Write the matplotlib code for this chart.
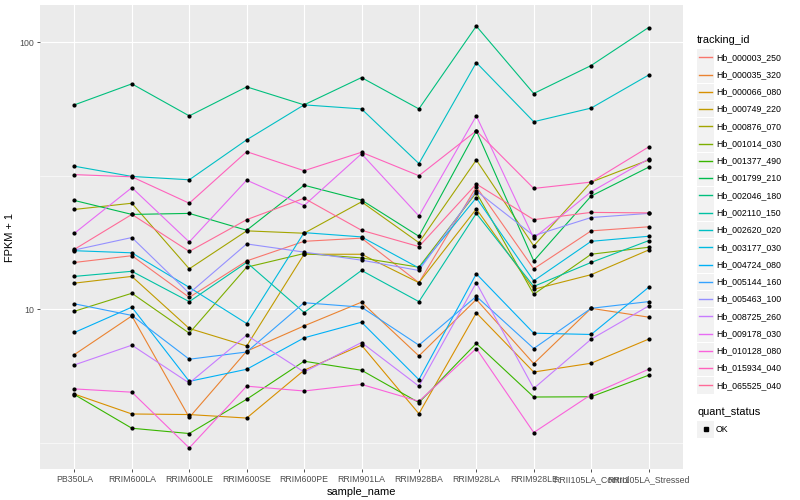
import numpy as np
import matplotlib
matplotlib.use('Agg')
from matplotlib import pyplot as plt
from matplotlib.patches import Rectangle
from matplotlib.lines import Line2D

samples = ['PB350LA', 'RRIM600LA', 'RRIM600LE', 'RRIM600SE', 'RRIM600PE', 'RRIM901LA',
           'RRIM928BA', 'RRIM928LA', 'RRIM928LE', 'RRII105LA_Control', 'RRII105LA_Stressed']

tracking_ids = ['Hb_000003_250', 'Hb_000035_320', 'Hb_000066_080', 'Hb_000749_220',
                'Hb_000876_070', 'Hb_001014_030', 'Hb_001377_490', 'Hb_001799_210',
                'Hb_002046_180', 'Hb_002110_150', 'Hb_002620_020', 'Hb_003177_030',
                'Hb_004724_080', 'Hb_005144_160', 'Hb_005463_100', 'Hb_008725_260',
                'Hb_009178_030', 'Hb_010128_080', 'Hb_015934_040', 'Hb_065525_040']

# FPKM + 1 per sample
hb_000003_250 = [15.0, 15.9, 11.1, 15.2, 18.0, 18.5, 12.6, 28.8, 14.2, 19.7, 20.4]
hb_000035_320 = [6.78, 9.46, 3.94, 6.98, 8.68, 10.65, 6.70, 10.9, 6.27, 10.1, 9.36]
hb_000066_080 = [4.82, 4.06, 4.04, 3.92, 5.92, 7.35, 4.07, 9.71, 5.83, 6.29, 7.74]
hb_000749_220 = [12.55, 13.3, 8.49, 7.30, 16.1, 16.1, 12.6, 23.8, 11.9, 13.5, 16.7]
hb_000876_070 = [23.7, 25.0, 14.2, 19.7, 19.3, 25.3, 17.8, 36.3, 17.3, 30.0, 36.3]
hb_001014_030 = [9.85, 11.5, 8.15, 14.4, 16.2, 15.6, 14.4, 27.4, 11.4, 16.1, 17.1]
hb_001377_490 = [4.80, 3.59, 3.43, 4.61, 6.40, 5.92, 4.48, 7.46, 4.70, 4.71, 5.67]
hb_001799_210 = [25.6, 22.7, 22.9, 19.8, 29.2, 25.7, 18.8, 46.7, 15.2, 26.6, 34.1]
hb_002046_180 = [58.4, 70.0, 53.1, 68.2, 58.4, 73.9, 56.4, 115.2, 64.4, 82.0, 113.8]
hb_002110_150 = [13.3, 13.9, 10.7, 15.0, 9.74, 14.0, 10.7, 22.9, 12.2, 15.0, 18.1]
hb_002620_020 = [34.4, 31.5, 30.6, 43.2, 58.4, 56.4, 35.2, 84.1, 50.5, 56.8, 75.5]
hb_003177_030 = [16.6, 16.3, 12.1, 8.86, 19.4, 18.7, 14.3, 26.2, 12.8, 18.0, 18.8]
hb_004724_080 = [8.20, 10.2, 5.38, 5.97, 7.83, 8.96, 5.46, 13.6, 8.15, 8.06, 12.1]
hb_005144_160 = [10.5, 9.50, 6.51, 6.93, 10.6, 10.2, 7.35, 11.2, 7.14, 10.1, 10.7]
hb_005463_100 = [16.7, 18.6, 11.5, 17.6, 16.4, 15.3, 14.0, 27.8, 18.9, 22.1, 22.9]
hb_008725_260 = [6.20, 7.35, 5.30, 8.01, 5.83, 7.52, 5.16, 12.6, 5.06, 7.74, 10.3]
hb_009178_030 = [19.3, 28.6, 17.9, 30.5, 24.5, 38.3, 22.4, 53.1, 18.5, 27.6, 36.6]
hb_010128_080 = [5.04, 4.90, 3.03, 5.16, 4.95, 5.24, 4.53, 7.14, 3.46, 4.80, 5.97]
hb_015934_040 = [32.0, 31.4, 25.0, 39.0, 33.1, 38.8, 31.7, 46.7, 28.4, 30.0, 40.6]
hb_065525_040 = [16.8, 22.7, 16.5, 21.7, 26.1, 19.8, 17.2, 29.5, 21.7, 23.1, 23.0]

series = [hb_000003_250, hb_000035_320, hb_000066_080, hb_000749_220, hb_000876_070,
          hb_001014_030, hb_001377_490, hb_001799_210, hb_002046_180, hb_002110_150,
          hb_002620_020, hb_003177_030, hb_004724_080, hb_005144_160, hb_005463_100,
          hb_008725_260, hb_009178_030, hb_010128_080, hb_015934_040, hb_065525_040]


def hcl(h, c=100.0, l=65.0):
    # polar LUV -> sRGB hex, like R's hcl()
    xn, yn, zn = 95.047, 100.0, 108.883
    un = 4 * xn / (xn + 15 * yn + 3 * zn)
    vn = 9 * yn / (xn + 15 * yn + 3 * zn)
    u = c * np.cos(np.radians(h)) / (13 * l) + un
    v = c * np.sin(np.radians(h)) / (13 * l) + vn
    y = yn * ((l + 16) / 116) ** 3
    x = 9 * y * u / (4 * v)
    z = -x / 3 - 5 * y + 3 * y / v
    xyz = np.array([x, y, z]) / 100
    m = np.array([[3.240479, -1.537150, -0.498535],
                  [-0.969256, 1.875992, 0.041556],
                  [0.055648, -0.204043, 1.057311]])
    rgb = m @ xyz
    rgb = np.where(rgb > 0.00304, 1.055 * np.power(np.clip(rgb, 1e-9, None), 1 / 2.4) - 0.055, 12.92 * rgb)
    rgb = np.clip(rgb, 0, 1)
    return '#%02X%02X%02X' % tuple(int(round(ch * 255)) for ch in rgb)


n = len(tracking_ids)
colors = [hcl(15 + 360 * i / n) for i in range(n)]

plt.rcParams['font.family'] = ['Liberation Sans', 'DejaVu Sans']
fig = plt.figure(figsize=(8, 5), dpi=100)
ax = fig.add_axes([40 / 800, 1 - 469 / 500, 643 / 800, 464 / 500])
ax.set_facecolor('#EBEBEB')

x = np.arange(len(samples))
for vals, col in zip(series, colors):
    ax.plot(x, vals, color=col, linewidth=0.8, zorder=2)
for vals in series:
    ax.plot(x, vals, linestyle='none', marker='o', markersize=2.0, color='black', zorder=3)

ax.set_yscale('log')
allv = np.log10(np.concatenate([np.asarray(s) for s in series]))
span = allv.max() - allv.min()
ax.set_ylim(10 ** (allv.min() - 0.05 * span), 10 ** (allv.max() + 0.05 * span))
ax.set_xlim(-0.6, len(samples) - 0.4)

ax.set_yticks([10, 100])
ax.set_yticklabels(['10', '100'])
ax.set_yticks([10 ** 0.5, 10 ** 1.5], minor=True)
ax.yaxis.set_minor_formatter(plt.NullFormatter())
ax.set_xticks(x)
ax.set_xticklabels(samples)

ax.grid(True, which='major', color='white', linewidth=0.8)
ax.grid(True, which='minor', axis='y', color='white', linewidth=0.4)
ax.set_axisbelow(True)
for s in ax.spines.values():
    s.set_visible(False)
ax.tick_params(which='major', length=2.5, width=0.6, color='#333333', labelsize=6.3,
               labelcolor='#4D4D4D', pad=2)
ax.tick_params(which='minor', length=0)
ax.set_xlabel('sample_name', fontsize=7.9, labelpad=2)
ax.set_ylabel('FPKM + 1', fontsize=7.9, labelpad=3)


def fx(px):
    return px / 800


def fy(py):
    return 1 - py / 500


# legend drawn by hand, ggplot style
fig.text(fx(697), fy(40), 'tracking_id', fontsize=7.9, va='center', ha='left')
for i, (name, col) in enumerate(zip(tracking_ids, colors)):
    yc = 57.3 + i * 17.27
    fig.add_artist(Rectangle((fx(697), fy(yc + 8.3)), 17 / 800, 16.6 / 500,
                             transform=fig.transFigure, facecolor='#F2F2F2', edgecolor='none',
                             zorder=1))
    fig.add_artist(Line2D([fx(699), fx(712)], [fy(yc), fy(yc)], transform=fig.transFigure,
                          color=col, linewidth=1.0, zorder=3))
    fig.text(fx(716), fy(yc), name, fontsize=6.3, va='center', ha='left')

fig.text(fx(697), fy(412), 'quant_status', fontsize=7.9, va='center', ha='left')
fig.add_artist(Rectangle((fx(697), fy(437.5)), 17 / 800, 17 / 500,
                         transform=fig.transFigure, facecolor='#F2F2F2', edgecolor='none',
                         zorder=1))
fig.add_artist(Line2D([fx(705.5)], [fy(429)], transform=fig.transFigure, linestyle='none',
                      marker='s', markersize=2.2, color='black', zorder=3))
fig.text(fx(716), fy(429), 'OK', fontsize=6.3, va='center', ha='left')

fig.savefig('out.png', dpi=100)
